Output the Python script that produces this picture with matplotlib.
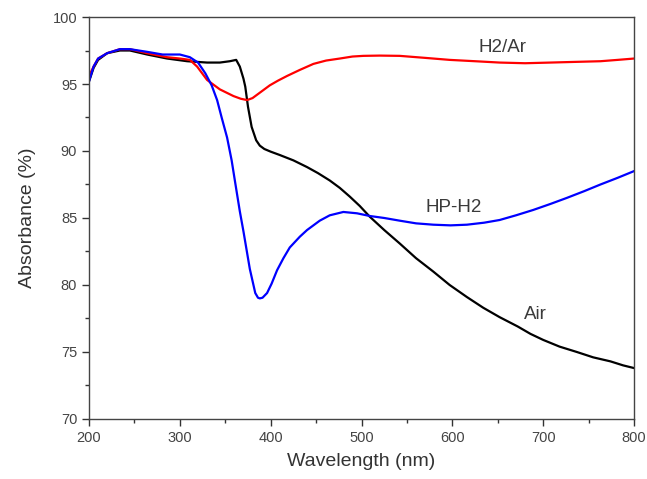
import numpy as np
import matplotlib.pyplot as plt
from matplotlib.ticker import MultipleLocator

plt.rcParams['font.family'] = ['Liberation Sans', 'DejaVu Sans']

# Air (black)
wl_air = [200, 205, 210, 220, 234, 245, 264, 286, 308, 330, 344, 355, 362, 366, 370,
          372, 375, 379, 384, 388, 393, 400, 410, 425, 440, 452, 465, 476, 487, 498,
          509, 525, 542, 560, 579, 597, 616, 634, 652, 672, 686, 700, 718, 737, 755,
          774, 788, 800]
abs_air = [95.2, 96.2, 96.8, 97.3, 97.5, 97.5, 97.2, 96.9, 96.7, 96.6, 96.6, 96.7, 96.8,
           96.3, 95.4, 94.8, 93.3, 91.8, 90.8, 90.4, 90.15, 89.95, 89.7, 89.3, 88.8,
           88.35, 87.8, 87.25, 86.6, 85.9, 85.1, 84.1, 83.1, 82.0, 81.0, 80.0, 79.1,
           78.3, 77.6, 76.9, 76.35, 75.9, 75.4, 75.0, 74.6, 74.3, 74.0, 73.8]

# HP-H2 (blue)
wl_hp = [200, 205, 210, 220, 234, 245, 264, 281, 300, 311, 320, 328, 335, 341, 346, 352,
         357, 361, 366, 370, 377, 383, 386, 388, 391, 396, 401, 407, 414, 421, 432, 440,
         454, 465, 480, 495, 509, 525, 542, 560, 579, 598, 616, 635, 652, 670, 689, 708,
         726, 745, 763, 782, 800]
abs_hp = [95.2, 96.3, 96.9, 97.3, 97.6, 97.6, 97.4, 97.2, 97.2, 97.0, 96.6, 95.8, 94.9,
          93.8, 92.5, 91.0, 89.3, 87.6, 85.5, 84.0, 81.2, 79.4, 79.05, 79.0, 79.05, 79.4,
          80.1, 81.1, 82.0, 82.8, 83.6, 84.1, 84.8, 85.2, 85.45, 85.35, 85.15, 85.0,
          84.8, 84.6, 84.5, 84.45, 84.5, 84.65, 84.85, 85.2, 85.6, 86.05, 86.5, 87.0,
          87.5, 88.0, 88.5]

# H2/Ar (red)
wl_ar = [200, 205, 210, 220, 234, 245, 264, 286, 300, 311, 319, 330, 344, 359, 367, 374,
         380, 385, 392, 399, 408, 418, 432, 447, 461, 476, 490, 502, 520, 542, 570, 597,
         625, 652, 680, 708, 735, 763, 782, 800]
abs_ar = [95.6, 96.3, 96.9, 97.3, 97.6, 97.6, 97.3, 97.0, 96.9, 96.8, 96.3, 95.3, 94.6,
          94.1, 93.9, 93.8, 93.95, 94.2, 94.55, 94.9, 95.25, 95.6, 96.05, 96.5, 96.75,
          96.9, 97.05, 97.1, 97.12, 97.1, 96.95, 96.8, 96.7, 96.6, 96.55, 96.6, 96.65,
          96.7, 96.8, 96.9]

fig = plt.figure(figsize=(6.47, 4.79), dpi=100)
ax = fig.add_axes([0.1376, 0.1253, 0.8424, 0.8392])

ax.plot(wl_air, abs_air, color='black', lw=1.6)
ax.plot(wl_ar, abs_ar, color='#ff0000', lw=1.6)
ax.plot(wl_hp, abs_hp, color='#0000ff', lw=1.6)

txt = '#3a3a3a'
ax.text(655, 97.7, 'H2/Ar', fontsize=13.5, color=txt, ha='center', va='center')
ax.text(601, 85.8, 'HP-H2', fontsize=13.5, color=txt, ha='center', va='center')
ax.text(691, 77.8, 'Air', fontsize=13.5, color=txt, ha='center', va='center')

ax.set_xlim(200, 800)
ax.set_ylim(70, 100)
ax.xaxis.set_major_locator(MultipleLocator(100))
ax.xaxis.set_minor_locator(MultipleLocator(50))
ax.yaxis.set_major_locator(MultipleLocator(5))
ax.yaxis.set_minor_locator(MultipleLocator(2.5))
ax.tick_params(which='major', length=5, width=1, color='#333333', labelsize=10.5,
               labelcolor='#444444')
ax.tick_params(which='minor', length=3, width=1, color='#333333')
for s in ax.spines.values():
    s.set_color('#444444')
    s.set_linewidth(1.0)

ax.set_xlabel('Wavelength (nm)', fontsize=14, color='#333333', labelpad=6)
ax.set_ylabel('Absorbance (%)', fontsize=14, color='#333333', labelpad=12)

fig.savefig('out.png', dpi=100)
